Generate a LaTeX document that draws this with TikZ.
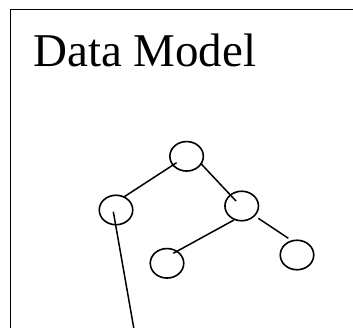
\documentclass[tikz,border=0pt]{standalone}
\usepackage{fontspec}
\setmainfont{Liberation Serif}
\usetikzlibrary{calc,shapes.geometric}
\begin{document}
\begin{tikzpicture}[x=1pt,y=-1pt,
  nd/.style={draw,ellipse,line width=1.6pt,minimum width=33.5pt,minimum height=29.5pt,inner sep=0pt},
  ed/.style={line width=1.5pt}]
\useasboundingbox (0,0) rectangle (353,328);
\draw[line width=1.8pt] (10.5,340) -- (10.5,9.5) -- (365,9.5);
\node[anchor=base west,inner sep=0pt,font=\fontsize{47}{50}\selectfont] (title) at (33,66.5) {Data Model};
\node[nd] (t) at (186.6,156.3) {};
\node[nd] (l) at (116,210) {};
\node[nd] (m) at (241.7,206) {};
\node[nd] (bl) at (167,263.3) {};
\node[nd] (br) at (297,255) {};
\coordinate (low) at (135,335);
\draw[ed] ($(t)+(-10,6.4)$) -- ($(l)+(8.3,-13.3)$);
\draw[ed] ($(t)+(14,7)$) -- ($(m)+(-5.7,-5)$);
\draw[ed] ($(m)+(-7.7,14)$) -- ($(bl)+(6.3,-10)$);
\draw[ed] ($(m)+(16.6,12.3)$) -- ($(br)+(-8.7,-16.7)$);
\draw[ed] ($(l)+(-2.7,1.7)$) -- (low);
\end{tikzpicture}
\end{document}
